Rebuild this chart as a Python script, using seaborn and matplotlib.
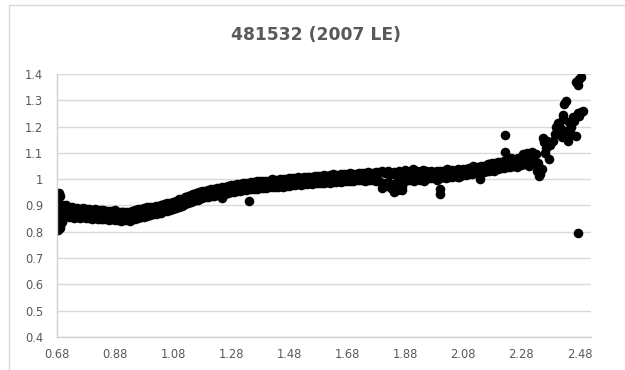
import seaborn as sns
import matplotlib.pyplot as plt
import matplotlib.lines as mlines
import pandas as pd

# --- image size ---
pixels_x = 625
pixels_y = 370
dpi = 100

title = "481532 (2007 LE)"
x_ticks = [0.68, 0.88, 1.08, 1.28, 1.48, 1.68, 1.88, 2.08, 2.28, 2.48]
y_ticks = [0.4, 0.5, 0.6, 0.7, 0.8, 0.9, 1.0, 1.1, 1.2, 1.3, 1.4]
y_tick_labels = ["0.4", "0.5", "0.6", "0.7", "0.8", "0.9", "1", "1.1", "1.2", "1.3", "1.4"]

# --- data ---
# vertical clump at the left edge
x_left = [0.682, 0.684, 0.686, 0.688, 0.690, 0.692, 0.684, 0.690, 0.696, 0.700, 0.704, 0.708,
          0.686, 0.690, 0.694, 0.698, 0.702, 0.706, 0.710, 0.712, 0.694, 0.700, 0.686, 0.690]
y_left = [0.930, 0.912, 0.860, 0.845, 0.830, 0.815, 0.808, 0.822, 0.838, 0.852, 0.868, 0.880,
          0.895, 0.878, 0.870, 0.890, 0.900, 0.862, 0.875, 0.892, 0.884, 0.870, 0.947, 0.938]

# main band: lower, middle and upper parts of the point cloud
x_seg1 = [0.70, 0.71, 0.72, 0.73, 0.74, 0.75, 0.76, 0.77, 0.78, 0.79,
          0.80, 0.81, 0.82, 0.83, 0.84, 0.85, 0.86, 0.87, 0.88, 0.89,
          0.90, 0.91, 0.92, 0.93, 0.94, 0.95, 0.96, 0.97, 0.98, 0.99]
lo_seg1 = [0.854, 0.860, 0.856, 0.858, 0.852, 0.857, 0.854, 0.856, 0.852, 0.853,
           0.850, 0.852, 0.848, 0.849, 0.847, 0.848, 0.845, 0.847, 0.844, 0.846,
           0.842, 0.845, 0.843, 0.841, 0.847, 0.849, 0.852, 0.858, 0.855, 0.861]
mid_seg1 = [0.876, 0.878, 0.873, 0.875, 0.871, 0.874, 0.870, 0.872, 0.869, 0.869,
            0.867, 0.868, 0.865, 0.864, 0.866, 0.863, 0.862, 0.862, 0.863, 0.860,
            0.859, 0.861, 0.858, 0.858, 0.862, 0.865, 0.868, 0.873, 0.872, 0.877]
hi_seg1 = [0.896, 0.900, 0.892, 0.894, 0.890, 0.892, 0.888, 0.891, 0.887, 0.886,
           0.884, 0.885, 0.882, 0.881, 0.883, 0.879, 0.880, 0.878, 0.882, 0.877,
           0.876, 0.877, 0.875, 0.876, 0.879, 0.881, 0.885, 0.888, 0.891, 0.893]

x_seg2 = [1.00, 1.01, 1.02, 1.03, 1.04, 1.05, 1.06, 1.07, 1.08, 1.09,
          1.10, 1.11, 1.12, 1.13, 1.14, 1.15, 1.16, 1.17, 1.18, 1.19,
          1.20, 1.21, 1.22, 1.23, 1.24, 1.25, 1.26, 1.27, 1.28, 1.29,
          1.30, 1.31, 1.32, 1.33, 1.34, 1.35, 1.36, 1.37, 1.38, 1.39]
lo_seg2 = [0.865, 0.869, 0.868, 0.873, 0.871, 0.879, 0.880, 0.882, 0.888, 0.890,
           0.896, 0.898, 0.905, 0.908, 0.914, 0.917, 0.922, 0.925, 0.927, 0.931,
           0.934, 0.936, 0.937, 0.940, 0.941, 0.944, 0.945, 0.948, 0.950, 0.951,
           0.954, 0.955, 0.958, 0.958, 0.961, 0.961, 0.964, 0.964, 0.966, 0.967]
hi_seg2 = [0.893, 0.894, 0.897, 0.899, 0.901, 0.904, 0.908, 0.910, 0.915, 0.918,
           0.923, 0.926, 0.931, 0.936, 0.940, 0.944, 0.949, 0.951, 0.955, 0.957,
           0.960, 0.963, 0.964, 0.967, 0.968, 0.971, 0.972, 0.975, 0.977, 0.978,
           0.981, 0.982, 0.985, 0.986, 0.987, 0.989, 0.990, 0.992, 0.993, 0.994]

x_seg3 = [1.40, 1.41, 1.42, 1.43, 1.44, 1.45, 1.46, 1.47, 1.48, 1.49,
          1.50, 1.51, 1.52, 1.53, 1.54, 1.55, 1.56, 1.57, 1.58, 1.59,
          1.60, 1.61, 1.62, 1.63, 1.64, 1.65, 1.66, 1.67, 1.68, 1.69,
          1.70, 1.71, 1.72, 1.73, 1.74, 1.75, 1.76, 1.77, 1.78, 1.79]
lo_seg3 = [0.968, 0.970, 0.970, 0.972, 0.972, 0.974, 0.971, 0.976, 0.976, 0.978,
           0.978, 0.980, 0.977, 0.982, 0.982, 0.984, 0.981, 0.986, 0.985, 0.987,
           0.987, 0.989, 0.986, 0.991, 0.991, 0.992, 0.989, 0.994, 0.994, 0.995,
           0.992, 0.996, 0.996, 0.997, 0.994, 0.998, 0.997, 0.998, 0.994, 0.992]
hi_seg3 = [0.994, 0.995, 0.999, 0.997, 0.998, 1.002, 1.000, 1.001, 1.005, 1.003,
           1.004, 1.008, 1.006, 1.007, 1.010, 1.009, 1.010, 1.014, 1.011, 1.012,
           1.016, 1.014, 1.015, 1.019, 1.017, 1.017, 1.021, 1.019, 1.020, 1.023,
           1.021, 1.021, 1.025, 1.022, 1.023, 1.026, 1.024, 1.023, 1.028, 1.026]

x_seg4 = [1.80, 1.81, 1.82, 1.83, 1.84, 1.85, 1.86, 1.87, 1.88, 1.89,
          1.90, 1.91, 1.92, 1.93, 1.94, 1.95, 1.96, 1.97, 1.98, 1.99,
          2.00, 2.01, 2.02, 2.03, 2.04, 2.05, 2.06, 2.07, 2.08, 2.09,
          2.10, 2.11, 2.12, 2.13, 2.14, 2.15, 2.16, 2.17, 2.18, 2.19,
          2.20, 2.21, 2.22, 2.23, 2.24, 2.25, 2.26, 2.27, 2.28, 2.29,
          2.30, 2.31, 2.32, 2.33]
lo_seg4 = [0.985, 0.975, 0.990, 0.965, 0.980, 0.960, 0.985, 0.970, 0.992, 0.996,
           0.998, 0.994, 1.002, 0.996, 1.003, 1.002, 1.005, 1.004, 1.006, 0.998,
           1.006, 1.008, 1.003, 1.010, 1.008, 1.012, 1.010, 1.014, 1.016, 1.015,
           1.020, 1.019, 1.023, 1.024, 1.028, 1.029, 1.032, 1.033, 1.036, 1.037,
           1.040, 1.042, 1.044, 1.046, 1.047, 1.050, 1.051, 1.054, 1.055, 1.058,
           1.059, 1.061, 1.062, 1.058]
hi_seg4 = [1.030, 1.022, 1.032, 1.020, 1.027, 1.014, 1.032, 1.024, 1.034, 1.027,
           1.030, 1.026, 1.032, 1.028, 1.034, 1.030, 1.028, 1.032, 1.029, 1.031,
           1.030, 1.032, 1.031, 1.034, 1.035, 1.033, 1.037, 1.036, 1.040, 1.038,
           1.043, 1.042, 1.048, 1.046, 1.052, 1.050, 1.055, 1.057, 1.060, 1.062,
           1.064, 1.067, 1.068, 1.072, 1.071, 1.076, 1.075, 1.080, 1.082, 1.084,
           1.087, 1.090, 1.092, 1.097]

# stray points and the steep rise at the right end
x_extra = [1.247, 1.340, 1.842, 1.850, 1.800, 1.870, 1.999, 2.001, 2.136, 2.222,
           2.224, 2.300, 2.315, 2.335, 2.340, 2.345, 2.350, 2.338, 2.353, 2.357,
           2.365, 2.376, 2.370, 2.360, 2.388, 2.399, 2.405, 2.411, 2.422, 2.434,
           2.440, 2.428, 2.434, 2.422, 2.445, 2.457, 2.468, 2.474, 2.485, 2.491,
           2.468, 2.479, 2.485, 2.474, 2.476, 2.450, 2.460, 2.480, 2.395, 2.415,
           2.420, 2.380, 2.450, 1.905, 1.945, 2.025, 2.065, 2.115, 2.165, 2.185,
           2.245, 2.265, 2.285, 2.305, 1.115, 1.165, 0.905, 0.935]
y_extra = [0.928, 0.918, 0.950, 0.960, 0.965, 0.958, 0.962, 0.945, 1.002, 1.168,
           1.103, 1.100, 1.105, 1.030, 1.013, 1.020, 1.040, 1.060, 1.157, 1.140,
           1.120, 1.075, 1.146, 1.100, 1.146, 1.197, 1.214, 1.210, 1.228, 1.183,
           1.146, 1.285, 1.296, 1.245, 1.217, 1.236, 1.165, 1.250, 1.255, 1.260,
           1.370, 1.380, 1.387, 1.360, 0.797, 1.200, 1.220, 1.240, 1.170, 1.190,
           1.160, 1.130, 1.170, 1.040, 0.995, 1.040, 1.010, 1.052, 1.058, 1.030,
           1.082, 1.045, 1.095, 1.050, 0.902, 0.922, 0.877, 0.847]

xs = (x_left + x_seg1 + x_seg1 + x_seg1 + x_seg2 + x_seg2 + x_seg3 + x_seg3
      + x_seg4 + x_seg4 + x_extra)
ys = (y_left + lo_seg1 + mid_seg1 + hi_seg1 + lo_seg2 + hi_seg2 + lo_seg3 + hi_seg3
      + lo_seg4 + hi_seg4 + y_extra)
df = pd.DataFrame({"x": xs, "y": ys})

# --- plot ---
sns.set_theme(style="white")
plt.rcParams["font.family"] = ["DejaVu Sans"]

fig = plt.figure(figsize=(pixels_x / dpi, pixels_y / dpi), dpi=dpi)
ax = fig.add_axes([0.0912, 0.0892, 0.8544, 0.7108])

sns.scatterplot(data=df, x="x", y="y", color="black", s=48, linewidth=0, ax=ax)

ax.set_xlim(0.68, 2.52)
ax.set_ylim(0.4, 1.4)
ax.set_xticks(x_ticks)
ax.set_xticklabels([f"{t:.2f}" for t in x_ticks])
ax.set_yticks(y_ticks)
ax.set_yticklabels(y_tick_labels)
ax.set_xlabel("")
ax.set_ylabel("")

ax.grid(axis="y", color="#d9d9d9", linewidth=1)
ax.set_axisbelow(True)
for side in ["top", "right"]:
    ax.spines[side].set_visible(False)
for side in ["left", "bottom"]:
    ax.spines[side].set_color("#d0d0d0")
    ax.spines[side].set_linewidth(1)
ax.tick_params(axis="both", length=0, labelsize=8.3, labelcolor="#595959")
ax.tick_params(axis="x", pad=8)
ax.tick_params(axis="y", pad=10)

fig.text(0.505, 0.905, title, ha="center", va="center", fontsize=12.3,
         fontweight="bold", color="#595959")

# chart frame (left and top edges visible in the crop)
fig.add_artist(mlines.Line2D([0.015, 0.015], [0.0, 0.986], color="#d9d9d9", lw=1))
fig.add_artist(mlines.Line2D([0.015, 1.0], [0.986, 0.986], color="#d9d9d9", lw=1))

plt.savefig("out.png", dpi=dpi)
